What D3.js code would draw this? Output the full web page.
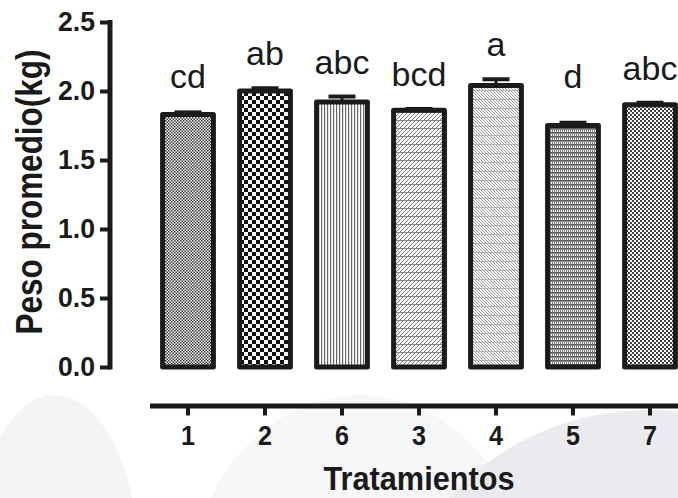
<!DOCTYPE html>
<html>
<head>
<meta charset="utf-8">
<script src="https://cdn.jsdelivr.net/npm/d3@7"></script>
<style>
  body { margin: 0; background: #fff; }
  text { font-family: Arial, "Liberation Sans", sans-serif; fill: #1a1a1a; }
</style>
</head>
<body>
<div id="chart"></div>
<script>
// Chart data
var treatments = ["1", "2", "6", "3", "4", "5", "7"];
var meanWeight = [1.83, 2.00, 1.92, 1.86, 2.04, 1.75, 1.90];
var errWeight = [0.015, 0.02, 0.04, 0.01, 0.045, 0.02, 0.015];
var groupLetters = ["cd", "ab", "abc", "bcd", "a", "d", "abc"];
var yTicks = [0, 0.5, 1.0, 1.5, 2.0, 2.5];

var svgWidth = 678;
var svgHeight = 498;
var ink = "#1b1b1b";

var svg = d3.select("#chart")
    .append("svg")
    .attr("width", svgWidth)
    .attr("height", svgHeight);

// faint watermark shapes in the background
var bg = svg.append("g");
bg.append("ellipse").attr("cx", 55).attr("cy", 570).attr("rx", 85).attr("ry", 175).attr("fill", "#f4f4f6");
bg.append("ellipse").attr("cx", 360).attr("cy", 610).attr("rx", 175).attr("ry", 215).attr("fill", "#f7f7f9");
bg.append("ellipse").attr("cx", 650).attr("cy", 650).attr("rx", 260).attr("ry", 240).attr("fill", "#ebebef");

// Fill patterns, one per bar
var defs = svg.append("defs");
function pattern(id, w, h) {
    return defs.append("pattern")
        .attr("id", id)
        .attr("patternUnits", "userSpaceOnUse")
        .attr("width", w)
        .attr("height", h);
}
function bgRect(p, w, h, c) {
    p.append("rect").attr("width", w).attr("height", h).attr("fill", c);
}

// 1: fine dots
var p1 = pattern("pat1", 3, 3);
bgRect(p1, 3, 3, "#fff");
p1.append("rect").attr("width", 1.5).attr("height", 1.5).attr("fill", "#333");
p1.append("rect").attr("x", 1.5).attr("y", 1.5).attr("width", 1.5).attr("height", 1.5).attr("fill", "#333");

// 2: coarse checkerboard
var p2 = pattern("pat2", 8, 8);
bgRect(p2, 8, 8, "#fff");
p2.append("rect").attr("width", 4).attr("height", 4).attr("fill", "#111");
p2.append("rect").attr("x", 4).attr("y", 4).attr("width", 4).attr("height", 4).attr("fill", "#111");

// 6: vertical lines
var p3 = pattern("pat3", 3, 3);
bgRect(p3, 3, 3, "#fff");
p3.append("rect").attr("width", 1.2).attr("height", 3).attr("fill", "#666");

// 3: "/" lines plus horizontal lines
var p4 = pattern("pat4", 4, 8);
bgRect(p4, 4, 8, "#fff");
p4.append("path")
    .attr("d", d3.range(-12, 16, 4).map(k => `M${k},8L${k + 8},0`).join(""))
    .attr("stroke", "#777").attr("stroke-width", 1);
p4.append("rect").attr("width", 4).attr("height", 1).attr("fill", "#888");

// 4: "\" lines plus horizontal lines
var p5 = pattern("pat5", 3, 9);
bgRect(p5, 3, 9, "#fff");
p5.append("path")
    .attr("d", d3.range(-12, 12, 3).map(k => `M${k},0L${k + 9},9`).join(""))
    .attr("stroke", "#999").attr("stroke-width", 1);
p5.append("rect").attr("width", 3).attr("height", 0.8).attr("fill", "#aaa");

// 5: dense grid
var p6 = pattern("pat6", 2, 4);
bgRect(p6, 2, 4, "#fff");
p6.append("rect").attr("width", 2).attr("height", 1.6).attr("fill", "#4a4a4a");
p6.append("rect").attr("width", 0.9).attr("height", 4).attr("fill", "#777");

// 7: fine checker, darker
var p7 = pattern("pat7", 4, 4);
bgRect(p7, 4, 4, "#fff");
p7.append("rect").attr("width", 2).attr("height", 2).attr("fill", "#444");
p7.append("rect").attr("x", 2).attr("y", 2).attr("width", 2).attr("height", 2).attr("fill", "#444");

var patIds = ["pat1", "pat2", "pat3", "pat4", "pat5", "pat6", "pat7"];

// Scales
var xScale = d3.scaleBand()
    .domain(treatments)
    .range([149.5, 688.5])
    .paddingInner(0.34)
    .paddingOuter(0.17);

var yScale = d3.scaleLinear()
    .domain([0, 2.5])
    .range([367, 22]);

var bars = treatments.map((t, i) => ({
    t: t, v: meanWeight[i], e: errWeight[i], lbl: groupLetters[i], pat: patIds[i]
}));

// Error bars (upper only)
var errG = svg.append("g");
errG.selectAll("line.stem")
    .data(bars)
    .enter()
    .append("line")
    .attr("x1", d => xScale(d.t) + xScale.bandwidth() / 2)
    .attr("x2", d => xScale(d.t) + xScale.bandwidth() / 2)
    .attr("y1", d => yScale(d.v))
    .attr("y2", d => yScale(d.v + d.e))
    .attr("stroke", ink)
    .attr("stroke-width", 3);
errG.selectAll("line.cap")
    .data(bars)
    .enter()
    .append("line")
    .attr("x1", d => xScale(d.t) + xScale.bandwidth() / 2 - 13.5)
    .attr("x2", d => xScale(d.t) + xScale.bandwidth() / 2 + 13.5)
    .attr("y1", d => yScale(d.v + d.e))
    .attr("y2", d => yScale(d.v + d.e))
    .attr("stroke", ink)
    .attr("stroke-width", 4);

// Bars
svg.append("g")
    .selectAll("rect")
    .data(bars)
    .enter()
    .append("rect")
    .attr("x", d => xScale(d.t))
    .attr("y", d => yScale(d.v))
    .attr("width", xScale.bandwidth())
    .attr("height", d => yScale(0) - yScale(d.v))
    .attr("fill", d => `url(#${d.pat})`)
    .attr("stroke", ink)
    .attr("stroke-width", 5)
    .attr("stroke-linejoin", "round");

// Significance letters above the bars
svg.append("g")
    .selectAll("text")
    .data(bars)
    .enter()
    .append("text")
    .attr("x", d => xScale(d.t) + xScale.bandwidth() / 2)
    .attr("y", d => Math.min(yScale(d.v + d.e) - 23, 88))
    .attr("text-anchor", "middle")
    .attr("font-size", 34)
    .text(d => d.lbl);

// Y axis
var yAxis = svg.append("g")
    .attr("transform", "translate(110,0)")
    .call(d3.axisLeft(yScale).tickValues(yTicks).tickFormat(d3.format(".1f")).tickSize(10).tickSizeOuter(0).tickPadding(5));
yAxis.select(".domain").attr("stroke", ink).attr("stroke-width", 5).attr("d", "M0,20V369.5");
yAxis.selectAll(".tick line").attr("stroke", ink).attr("stroke-width", 4);
yAxis.selectAll(".tick text")
    .attr("font-size", 28)
    .attr("font-weight", "bold")
    .attr("font-family", "Arial, 'Liberation Sans', sans-serif")
    .attr("textLength", 37)
    .attr("lengthAdjust", "spacingAndGlyphs")
    .attr("fill", ink);

// X axis (detached, below the bars)
var xAxis = svg.append("g")
    .attr("transform", "translate(0,405.5)")
    .call(d3.axisBottom(xScale).tickSize(10).tickSizeOuter(0).tickPadding(10));
xAxis.select(".domain").attr("stroke", ink).attr("stroke-width", 5);
xAxis.selectAll(".tick line").attr("stroke", ink).attr("stroke-width", 4);
xAxis.selectAll(".tick text")
    .attr("font-size", 27)
    .attr("font-weight", "bold")
    .attr("font-family", "Arial, 'Liberation Sans', sans-serif")
    .attr("textLength", 14)
    .attr("lengthAdjust", "spacingAndGlyphs")
    .attr("fill", ink);

// Axis titles
svg.append("text")
    .attr("transform", `translate(${(xScale(treatments[0]) + xScale(treatments[6]) + xScale.bandwidth()) / 2}, 490)`)
    .attr("text-anchor", "middle")
    .attr("font-size", 33)
    .attr("font-weight", "bold")
    .attr("textLength", 191)
    .attr("lengthAdjust", "spacingAndGlyphs")
    .text("Tratamientos");

svg.append("text")
    .attr("transform", "translate(42, 192) rotate(-90)")
    .attr("text-anchor", "middle")
    .attr("font-size", 36)
    .attr("font-weight", "bold")
    .attr("textLength", 285)
    .attr("lengthAdjust", "spacingAndGlyphs")
    .text("Peso promedio(kg)");
</script>
</body>
</html>
